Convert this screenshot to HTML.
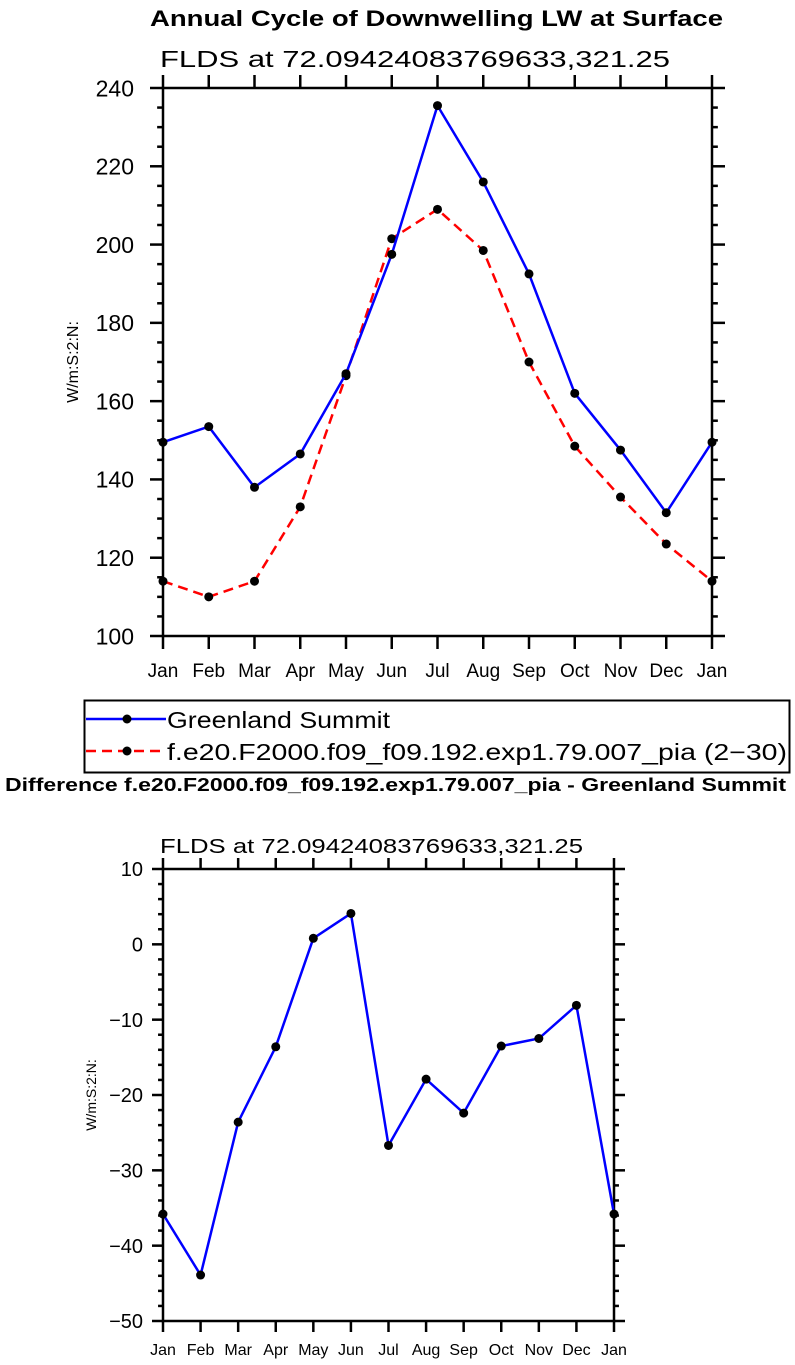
<!DOCTYPE html>
<html><head><meta charset="utf-8"><style>
html,body{margin:0;padding:0;background:#fff;}
svg{display:block;font-family:"Liberation Sans","DejaVu Sans",sans-serif;}
</style></head><body>
<svg id="c" width="795" height="1365" viewBox="0 0 795 1365">
<text x="150" y="26" font-size="22" font-weight="bold" textLength="573" lengthAdjust="spacingAndGlyphs">Annual Cycle of Downwelling LW at Surface</text>
<text x="160" y="67" font-size="23" textLength="510" lengthAdjust="spacingAndGlyphs">FLDS at 72.09424083769633,321.25</text>
<text transform="translate(78,362) rotate(-90)" text-anchor="middle" font-size="16">W/m:S:2:N:</text>
<g>
<rect x="84.5" y="700.5" width="705" height="72" fill="none" stroke="#000" stroke-width="2"/>
<line x1="86" y1="719" x2="166" y2="719" stroke="#0000ff" stroke-width="2.5"/>
<circle cx="127" cy="719" r="4.5" fill="#000"/>
<text x="167" y="728" font-size="23" textLength="223" lengthAdjust="spacingAndGlyphs">Greenland Summit</text>
<line x1="86" y1="751" x2="166" y2="751" stroke="#ff0000" stroke-width="2.5" stroke-dasharray="10,6"/>
<circle cx="127" cy="751" r="4.5" fill="#000"/>
<text x="167" y="760" font-size="23" textLength="620" lengthAdjust="spacingAndGlyphs">f.e20.F2000.f09_f09.192.exp1.79.007_pia (2−30)</text>
</g>
<text x="5" y="791" font-size="18" font-weight="bold" textLength="781" lengthAdjust="spacingAndGlyphs">Difference f.e20.F2000.f09_f09.192.exp1.79.007_pia - Greenland Summit</text>
<text x="160" y="853" font-size="20" textLength="423" lengthAdjust="spacingAndGlyphs">FLDS at 72.09424083769633,321.25</text>
<text transform="translate(96,1095) rotate(-90)" text-anchor="middle" font-size="14">W/m:S:2:N:</text>
</svg>
<script>
const months=["Jan","Feb","Mar","Apr","May","Jun","Jul","Aug","Sep","Oct","Nov","Dec","Jan"];
const obsValues=[149.5,153.5,138,146.5,167,197.5,235.5,216,192.5,162,147.5,131.5,149.5];
const modelValues=[114,110,114,133,166.5,201.5,209,198.5,170,148.5,135.5,123.5,114];
const diffValues=[-35.8,-43.9,-23.6,-13.6,0.8,4.1,-26.7,-17.9,-22.4,-13.5,-12.5,-8.1,-35.8];
const topTicks=[100,120,140,160,180,200,220,240];
const bottomTicks=[-50,-40,-30,-20,-10,0,10];
const svg=document.getElementById('c');
const NS='http://www.w3.org/2000/svg';
function mk(tag,attrs,parent){const e=document.createElementNS(NS,tag);for(const k in attrs)e.setAttribute(k,attrs[k]);(parent||svg).appendChild(e);return e;}
function panel(p){
  const g=mk('g',{});
  
  
  const xs=i=>p.x0+(p.x1-p.x0)*i/(months.length-1);
  const ys=v=>p.y1-(v-p.ymin)*(p.y1-p.y0)/(p.ymax-p.ymin);
  const fr=mk('rect',{x:p.x0,y:p.y0,width:p.x1-p.x0,height:p.y1-p.y0,fill:'none',stroke:'#000','stroke-width':2.5},g);
  
  
  months.forEach((m,i)=>{
    const x=xs(i);
    mk('line',{x1:x,y1:p.y1,x2:x,y2:p.y1+p.maj,stroke:'#000','stroke-width':2.5},g);
    mk('line',{x1:x,y1:p.y0,x2:x,y2:p.y0-p.maj,stroke:'#000','stroke-width':2.5},g);
    const t=mk('text',{x:x,y:p.y1+p.lblOff,'text-anchor':'middle','font-size':p.xfs},g);
    t.textContent=m;
    
    
  });
  for(let v=p.ymin;v<=p.ymax+1e-9;v+=p.minor){
    const y=ys(v);const isMaj=Math.abs(v/p.major-Math.round(v/p.major))<1e-6;
    const l=isMaj?p.maj:p.maj*0.45;
    mk('line',{x1:p.x0,y1:y,x2:p.x0-l,y2:y,stroke:'#000','stroke-width':2.5},g);
    mk('line',{x1:p.x1,y1:y,x2:p.x1+l,y2:y,stroke:'#000','stroke-width':2.5},g);
  }
  p.ticks.forEach(v=>{
    const t=mk('text',{x:p.x0-p.ygap,y:ys(v)+p.yfs*0.36,'text-anchor':'end','font-size':p.yfs},g);
    t.textContent=(v<0?'−'+Math.abs(v):v);
    
    
  });
  p.series.forEach(s=>{
    const pts=s.values.map((v,i)=>xs(i)+','+ys(v)).join(' ');
    const pl=mk('polyline',{points:pts,fill:'none',stroke:s.color,'stroke-width':2.5,'stroke-dasharray':s.dash||'none'},g);
    
    
    s.values.forEach((v,i)=>{
      const c=mk('circle',{cx:xs(i),cy:ys(v),r:4.5,fill:'#000'},g);
      
      
    });
  });
}
panel({name:'top-chart',x0:163,x1:712,y0:88,y1:636,ymin:100,ymax:240,major:20,minor:5,maj:13,ticks:topTicks,xfs:19,yfs:23,ygap:29,lblOff:41,
  series:[{name:'model-series',values:modelValues,color:'#ff0000',dash:'10,6'},{name:'obs-series',values:obsValues,color:'#0000ff'}]});
panel({name:'bottom-chart',x0:163,x1:614,y0:869,y1:1321,ymin:-50,ymax:10,major:10,minor:2,maj:11,ticks:bottomTicks,xfs:16,yfs:20,ygap:20,lblOff:34,
  series:[{name:'difference-series',values:diffValues,color:'#0000ff'}]});
</script>
</body></html>
